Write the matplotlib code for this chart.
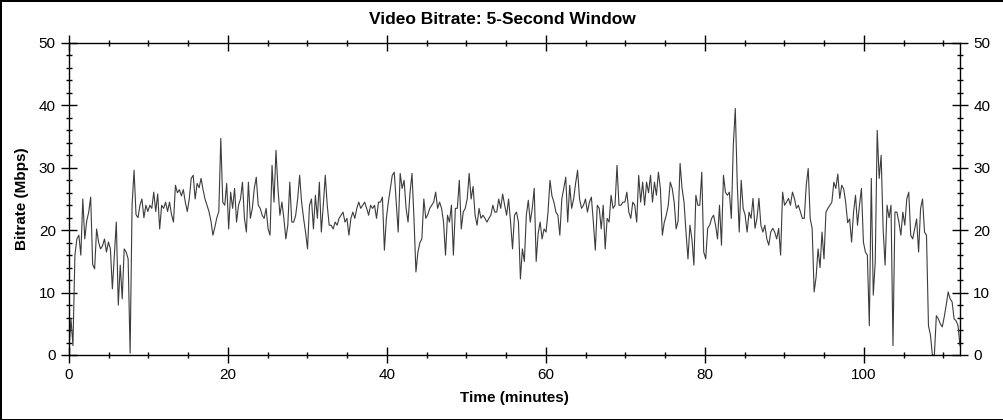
import numpy as np
import matplotlib
matplotlib.use("Agg")
import matplotlib.pyplot as plt
from matplotlib.ticker import MultipleLocator

plt.rcParams['font.family'] = ['Liberation Sans', 'DejaVu Sans']

# one reading about every 15 seconds (minutes)
SAMPLE_MIN = 0.248

# bitrate readings in Mbps
seg_0_20 = [1.0, 5.8, 1.5, 16.0, 18.6, 19.2, 16.0, 25.0,
            18.6, 21.5, 22.9, 25.3, 14.5, 13.8, 20.2, 18.1,
            17.0, 17.5, 18.6, 16.5, 18.1, 17.0, 10.6, 16.0,
            21.3, 8.0, 14.4, 9.0, 17.0, 16.5, 15.4, 0.3,
            24.0, 29.6, 22.5, 22.0, 24.0, 25.0, 22.0, 24.0,
            23.0, 24.0, 23.5, 26.1, 23.0, 25.8, 20.2, 24.0,
            23.5, 24.5, 23.0, 24.5, 22.5, 21.3, 27.2, 26.0,
            26.5, 25.5, 26.5, 24.5, 23.0, 25.0, 28.3, 28.8,
            25.0, 27.5, 26.8, 28.3, 26.5, 25.0, 24.0, 23.0,
            21.5, 19.2, 20.5, 22.0, 23.0, 34.7, 24.5]
seg_20_40 = [24.0, 27.5, 20.2, 26.1, 23.5, 26.7, 21.3, 24.0,
             25.0, 27.7, 21.9, 19.7, 27.7, 21.9, 23.5, 26.7,
             28.5, 24.0, 23.5, 22.4, 21.9, 23.5, 20.2, 19.2,
             30.4, 24.5, 32.8, 26.7, 22.4, 24.5, 21.9, 18.6,
             20.8, 27.7, 21.3, 21.3, 22.4, 25.0, 28.8, 24.5,
             21.9, 19.7, 17.0, 24.0, 25.0, 20.2, 25.6, 21.9,
             27.7, 19.7, 24.0, 28.8, 24.0, 20.8, 20.8, 20.2,
             21.3, 20.8, 21.9, 22.4, 22.9, 21.3, 21.9, 19.2,
             21.9, 22.9, 21.9, 23.5, 24.5, 23.5, 24.0, 24.5,
             23.5, 22.4, 24.0, 23.5, 24.0, 21.9, 24.5, 24.5]
seg_40_60 = [25.3, 16.8, 21.9, 24.5, 26.7, 28.8, 29.3, 24.5,
             19.7, 29.1, 26.7, 28.0, 23.5, 21.3, 26.0, 29.1,
             21.9, 13.3, 16.5, 18.0, 18.6, 25.0, 21.9, 22.5,
             23.5, 24.0, 24.5, 26.1, 23.5, 24.5, 23.5, 21.3,
             16.0, 22.4, 21.3, 24.0, 16.0, 23.5, 23.5, 28.0,
             20.2, 22.9, 23.5, 25.0, 29.1, 25.0, 27.0, 22.4,
             20.8, 23.5, 21.9, 22.4, 21.9, 21.3, 21.9, 22.4,
             24.0, 22.9, 22.9, 25.0, 23.5, 25.8, 24.0, 22.4,
             25.0, 21.3, 17.0, 22.4, 22.9, 21.3, 12.2, 17.0,
             15.0, 22.4, 24.8, 21.3, 23.5, 26.7, 15.0]
seg_60_80 = [19.5, 21.3, 18.6, 20.2, 19.7, 22.9, 28.0, 25.5,
             24.5, 22.9, 22.4, 19.2, 25.0, 26.7, 28.5, 21.3,
             27.2, 23.5, 25.0, 27.5, 29.6, 25.0, 23.5, 24.0,
             25.0, 22.9, 24.5, 25.3, 21.3, 16.8, 24.0, 23.5,
             20.2, 24.0, 17.0, 21.9, 21.3, 25.6, 23.5, 24.0,
             30.4, 24.0, 24.0, 24.5, 24.5, 26.1, 22.9, 21.9,
             24.5, 24.0, 21.3, 28.8, 24.5, 27.7, 24.0, 27.7,
             26.0, 28.8, 24.5, 27.7, 25.6, 29.3, 26.7, 19.2,
             21.3, 22.4, 24.0, 27.7, 26.7, 24.5, 20.2, 21.5,
             30.7, 26.7, 24.5, 19.7, 15.4, 20.8, 18.6]
seg_80_100 = [14.4, 25.6, 24.0, 24.0, 29.3, 16.5, 15.4, 20.3,
              20.8, 21.9, 22.4, 20.8, 18.6, 24.0, 17.6, 28.8,
              26.1, 25.6, 26.1, 21.9, 33.6, 39.5, 27.5, 19.7,
              28.0, 23.5, 22.4, 19.7, 22.9, 21.9, 25.1, 20.3,
              21.9, 25.1, 20.8, 19.7, 20.8, 18.6, 17.6, 19.7,
              20.3, 19.7, 18.6, 20.3, 16.0, 26.1, 24.0, 24.5,
              25.1, 24.0, 26.1, 25.1, 23.5, 24.0, 23.0, 21.9,
              21.9, 27.2, 29.9, 21.9, 20.3, 10.1, 12.5, 17.0,
              14.0, 19.7, 15.4, 22.9, 23.5, 24.0, 24.5, 27.7,
              26.7, 29.0, 25.1, 27.2, 26.6, 24.5, 21.2]
seg_100_end = [21.8, 18.1, 22.9, 25.6, 20.8, 24.0, 26.7, 18.1,
               16.5, 16.0, 4.7, 28.3, 9.6, 14.9, 36.0, 28.3,
               32.0, 20.2, 14.4, 24.0, 22.0, 24.0, 1.5, 22.9,
               22.9, 21.3, 19.2, 22.9, 20.8, 25.0, 26.1, 19.2,
               18.6, 20.2, 21.8, 16.5, 23.5, 25.0, 19.7, 19.2,
               4.7, 3.2, 0.0, 0.0, 6.3, 5.8, 5.0, 4.5,
               6.1, 8.0, 10.1, 9.0, 8.5, 5.8, 5.5, 4.7,
               1.5]

bitrate = np.array(seg_0_20 + seg_20_40 + seg_40_60 + seg_60_80 + seg_80_100 + seg_100_end)
minutes = np.arange(len(bitrate)) * SAMPLE_MIN

fig = plt.figure(figsize=(10.04, 4.2), dpi=100)
fig.patch.set_edgecolor('black')
fig.patch.set_linewidth(2)
ax = fig.add_axes([69 / 1004, 1 - 355 / 420, 891 / 1004, 312 / 420])

ax.plot(minutes, bitrate, color='#3c3c3c', lw=0.8)

ax.set_xlim(0, minutes[-1])
ax.set_ylim(0, 50)
ax.xaxis.set_major_locator(MultipleLocator(20))
ax.xaxis.set_minor_locator(MultipleLocator(5))
ax.yaxis.set_major_locator(MultipleLocator(10))
ax.yaxis.set_minor_locator(MultipleLocator(2))
ax.tick_params(which='both', direction='inout', top=True, right=True,
               labelright=True, labelsize=11, width=1, color='black')
ax.tick_params(which='major', length=11, pad=4)
ax.tick_params(which='minor', length=5)
for s in ax.spines.values():
    s.set_linewidth(1)

fig.text(0.5, 1 - 19 / 420, 'Video Bitrate: 5-Second Window', ha='center', va='center',
         fontsize=12.5, fontweight='bold')
ax.set_xlabel('Time (minutes)', fontsize=11, fontweight='bold')
ax.xaxis.set_label_coords(0.5, -0.115)
ax.set_ylabel('Bitrate (Mbps)', fontsize=11, fontweight='bold')
ax.yaxis.set_label_coords(-0.045, 0.5)

fig.savefig('out.png', dpi=100, edgecolor=fig.get_edgecolor())
